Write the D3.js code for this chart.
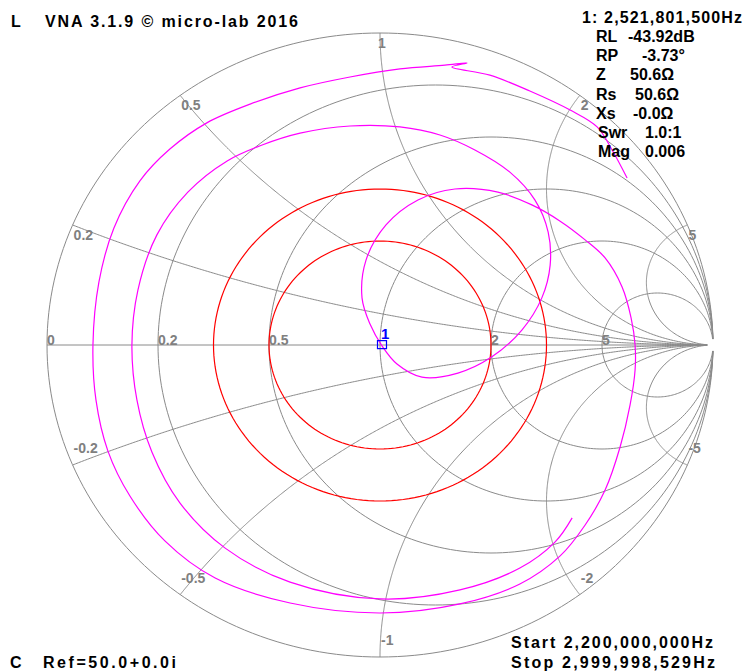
<!DOCTYPE html>
<html>
<head>
<meta charset="utf-8">
<script src="https://cdn.jsdelivr.net/npm/d3@7"></script>
<style>
  html, body { margin: 0; padding: 0; background: #fff; }
  svg { display: block; }
  text { font-family: "Liberation Sans", Arial, sans-serif; font-weight: bold; }
</style>
</head>
<body>
<svg id="chart" width="751" height="672"></svg>
<script>
// Smith chart grid values
const resistanceValues = [0, 0.2, 0.5, 1, 2, 5];
const resistanceLabels = ["0", "0.2", "0.5", "", "2", "5"];
const reactanceValues = [0.2, 0.5, 1, 2, 5, -0.2, -0.5, -1, -2, -5];
const reactanceLabels = ["0.2", "0.5", "1", "2", "5", "-0.2", "-0.5", "-1", "-2", "-5"];

// SWR reference circles (|Gamma|)
const swrCircles = [1 / 3, 0.5];

// Measured S11 sweep, 2.2 GHz -> 3.0 GHz, reflection coefficient (real, imaginary)
const traceRe = [0.577, 0.526, 0.420, 0.240, 0.000, -0.270, -0.465, -0.601, -0.685, -0.730,
  -0.745, -0.727, -0.670, -0.577, -0.459, -0.354, -0.240, -0.090, 0.060, 0.180,
  0.285, 0.390, 0.465, 0.505, 0.511, 0.486, 0.426, 0.336, 0.234, 0.126,
  0.051, 0.006, -0.030, -0.054, -0.042, 0.018, 0.114, 0.225, 0.354, 0.456,
  0.541, 0.616, 0.676, 0.727, 0.754, 0.766, 0.766, 0.751, 0.721, 0.676,
  0.616, 0.541, 0.420, 0.240, 0.000, -0.270, -0.495, -0.646, -0.751, -0.817,
  -0.853, -0.862, -0.844, -0.799, -0.721, -0.631, -0.520, -0.390, -0.240, -0.090,
  0.060, 0.195, 0.261, 0.216, 0.330, 0.450, 0.571, 0.652, 0.697, 0.742];
const traceIm = [-0.554, -0.631, -0.715, -0.785, -0.814, -0.760, -0.651, -0.506, -0.343, -0.176,
  0.000, 0.176, 0.353, 0.490, 0.590, 0.641, 0.679, 0.702, 0.699, 0.673,
  0.625, 0.554, 0.465, 0.362, 0.256, 0.151, 0.048, -0.038, -0.090, -0.103,
  -0.061, -0.003, 0.067, 0.151, 0.272, 0.385, 0.465, 0.500, 0.490, 0.449,
  0.397, 0.337, 0.279, 0.186, 0.087, 0.000, -0.080, -0.192, -0.327, -0.465,
  -0.577, -0.676, -0.766, -0.830, -0.859, -0.827, -0.747, -0.628, -0.484, -0.340,
  -0.176, 0.000, 0.202, 0.375, 0.526, 0.628, 0.712, 0.772, 0.824, 0.859,
  0.885, 0.897, 0.904, 0.891, 0.865, 0.814, 0.753, 0.699, 0.625, 0.535];

// Marker 1 readout
const markerMag = 0.006;
const markerPhaseDeg = -3.73;
const markerLines = [
  ["RL", "-43.92dB"], ["RP", "-3.73°"], ["Z", "50.6Ω"], ["Rs", "50.6Ω"],
  ["Xs", "-0.0Ω"], ["Swr", "1.0:1"], ["Mag", "0.006"]
];

const svg = d3.select("#chart");
const cx = 380, cy = 345, rx = 333, ry = 312;
const gx = d3.scaleLinear().domain([-1, 1]).range([cx - rx, cx + rx]);
const gy = d3.scaleLinear().domain([-1, 1]).range([cy + ry, cy - ry]);
const line = d3.line().x(d => gx(d[0])).y(d => gy(d[1]));

// impedance -> reflection coefficient
function gamma(r, x) {
  const dr = (r + 1) * (r + 1) + x * x;
  return [((r * r - 1) + x * x) / dr, (2 * x) / dr];
}

const grid = svg.append("g").attr("fill", "none").attr("stroke", "#8a8a8a").attr("stroke-width", 1);

// constant-resistance circles
resistanceValues.forEach(r => {
  const c = r / (1 + r), rad = 1 / (1 + r);
  const pts = d3.range(0, 361, 1.5).map(a => [c + rad * Math.cos(a * Math.PI / 180), rad * Math.sin(a * Math.PI / 180)]);
  grid.append("path").attr("d", line(pts));
});

// constant-reactance arcs
reactanceValues.forEach(x => {
  const pts = d3.range(0, 0.9995, 0.0025).map(s => gamma(s / (1 - s), x));
  pts.push([1, 0]);
  grid.append("path").attr("d", line(pts));
});

// real axis
grid.append("path").attr("d", line([[-1, 0], [1, 0]]));

// blank spot at the open-circuit point
svg.append("ellipse").attr("cx", gx(1)).attr("cy", gy(0)).attr("rx", 5.5).attr("ry", 6).attr("fill", "#fff");

// grid labels
const lab = svg.append("g").attr("fill", "#808080").attr("font-size", 14);
resistanceValues.forEach((r, i) => {
  if (!resistanceLabels[i]) return;
  lab.append("text").attr("x", gx((r - 1) / (r + 1))).attr("y", gy(0) - 0.5).text(resistanceLabels[i]);
});
reactanceValues.forEach((x, i) => {
  const p = gamma(0, x);
  lab.append("text")
    .attr("x", gx(p[0]) + (x === 1 ? -2 : 1))
    .attr("y", x > 0 ? gy(p[1]) + 15 : gy(p[1]) - 12)
    .text(reactanceLabels[i]);
});

// SWR circles
swrCircles.forEach(m => {
  const pts = d3.range(0, 361, 2).map(a => [m * Math.cos(a * Math.PI / 180), m * Math.sin(a * Math.PI / 180)]);
  svg.append("path").attr("d", line(pts)).attr("fill", "none").attr("stroke", "#ff0000").attr("stroke-width", 1.2);
});

// measured trace
const trace = traceRe.map((v, i) => [v, traceIm[i]]);
svg.append("path").attr("d", line.curve(d3.curveCatmullRom.alpha(0.5))(trace))
  .attr("fill", "none").attr("stroke", "#ff00ff").attr("stroke-width", 1.2);
line.curve(d3.curveLinear);

// marker 1
const mRe = markerMag * Math.cos(markerPhaseDeg * Math.PI / 180);
const mIm = markerMag * Math.sin(markerPhaseDeg * Math.PI / 180);
svg.append("rect").attr("x", gx(mRe) - 4.5).attr("y", gy(mIm) - 4.5).attr("width", 9).attr("height", 8)
  .attr("fill", "none").attr("stroke", "#0000ff").attr("stroke-width", 1.2);
svg.append("text").attr("x", gx(mRe) - 1).attr("y", gy(mIm) - 6).attr("fill", "#0000ff").attr("font-size", 15).text("1");

// header / footer text
const txt = (x, y, s, w) => {
  const t = svg.append("text").attr("x", x).attr("y", y).attr("font-size", 16).attr("fill", "#000").text(s);
  if (w) t.attr("textLength", w).attr("lengthAdjust", "spacing");
  return t;
};
txt(11, 27, "L");
txt(45, 27, "VNA 3.1.9  © micro-lab 2016", 253);
txt(582, 23, "1: 2,521,801,500Hz", 160);
const valX = [628, 642, 630, 635, 633, 645, 645];
markerLines.forEach((d, i) => {
  const y = 42 + i * 19.2;
  txt(i < 5 ? 596 : 598, y, d[0]);
  txt(valX[i], y, d[1]);
});
txt(10, 668, "C");
txt(43, 668, "Ref=50.0+0.0i", 133);
txt(511, 648, "Start 2,200,000,000Hz", 202);
txt(511, 668, "Stop  2,999,998,529Hz", 204);
</script>
</body>
</html>
